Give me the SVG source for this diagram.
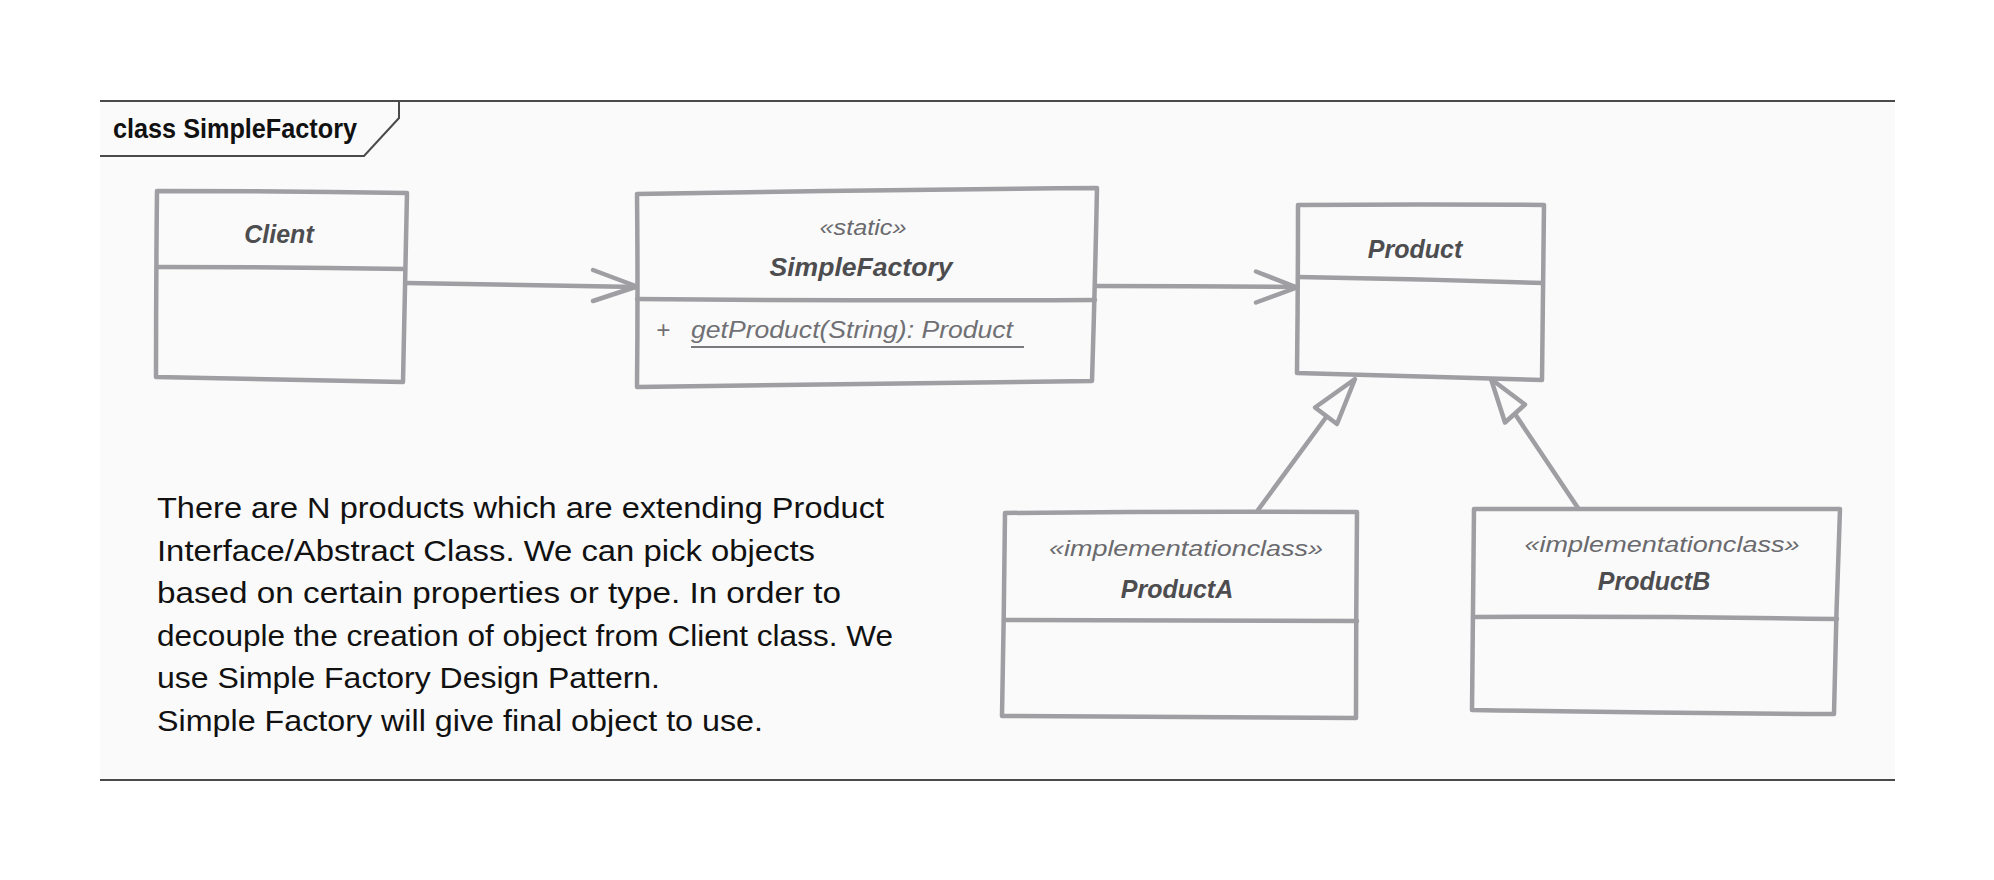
<svg xmlns="http://www.w3.org/2000/svg" width="1994" height="880" viewBox="0 0 1994 880">
  <style>
    .box { fill: #fafafa; stroke: #9e9ea3; stroke-width: 4.5; stroke-linejoin: round; stroke-linecap: round; }
    .div { fill: none; stroke: #9e9ea3; stroke-width: 4.5; stroke-linecap: round; }
    .conn { fill: none; stroke: #9e9ea3; stroke-width: 4.5; stroke-linecap: round; stroke-linejoin: round; }
    .tri { fill: #fafafa; stroke: #9e9ea3; stroke-width: 4.5; stroke-linejoin: round; }
    .name { font-family: "Liberation Sans", "DejaVu Sans", sans-serif; font-weight: bold; font-style: italic; font-size: 25px; fill: #4d4d50; text-anchor: middle; }
    .stereo { font-family: "Liberation Sans", "DejaVu Sans", sans-serif; font-style: italic; font-size: 22px; fill: #6a6a6e; text-anchor: middle; }
    .op { font-family: "Liberation Sans", "DejaVu Sans", sans-serif; font-style: italic; font-size: 24px; fill: #707074; }
    .note { font-family: "Liberation Sans", "DejaVu Sans", sans-serif; font-size: 29px; fill: #111111; }
    .frame { fill: none; stroke: #4a4a4a; stroke-width: 2; }
  </style>

  <rect x="0" y="0" width="1994" height="880" fill="#ffffff"/>

  <g id="frame">
    <rect x="100" y="101" width="1795" height="679" fill="#fafafa"/>
    <line class="frame" x1="100" y1="101" x2="1895" y2="101"/>
    <line class="frame" x1="100" y1="780" x2="1895" y2="780" stroke-width="2.5"/>
    <path class="frame" d="M100,156 L364,156 L399,118 L399,101"/>
    <text x="113" y="138" font-family="'Liberation Sans', 'DejaVu Sans', sans-serif" font-weight="bold" font-size="27" fill="#111111" textLength="244" lengthAdjust="spacingAndGlyphs">class SimpleFactory</text>
  </g>

  <g id="connectors">
    <!-- Client -> SimpleFactory -->
    <path class="conn" d="M406,283 Q520,285 637,287"/>
    <path class="conn" d="M593,270 L637,286.5 L593,301"/>
    <!-- SimpleFactory -> Product -->
    <path class="conn" d="M1095,286 Q1200,286 1297,287"/>
    <path class="conn" d="M1256,271.5 L1297,287.5 L1256,302.5"/>
    <!-- ProductA -> Product (generalization) -->
    <path class="conn" d="M1258,510 L1327,416"/>
    <path class="tri" d="M1355,379 L1315,407.5 L1337,424 Z"/>
    <!-- ProductB -> Product (generalization) -->
    <path class="conn" d="M1578,508 L1515,414"/>
    <path class="tri" d="M1491,379 L1505,422.5 L1525,404.5 Z"/>
  </g>

  <g id="client">
    <path class="box" d="M157,191 Q280,191 407,193 Q405,290 403,382 Q280,380 156,377 Q156,285 157,191 Z"/>
    <path class="div" d="M157,267 Q280,267 405,269"/>
    <text class="name" x="279" y="243">Client</text>
  </g>

  <g id="simplefactory">
    <path class="box" d="M637,194 Q860,190 1097,188 Q1095,285 1092,381 Q860,384 637,387 Q638,290 637,194 Z"/>
    <path class="div" d="M637,299 Q860,301 1095,300"/>
    <text class="stereo" x="863" y="235" textLength="87" lengthAdjust="spacingAndGlyphs">«static»</text>
    <text class="name" x="861" y="276" textLength="183" lengthAdjust="spacingAndGlyphs">SimpleFactory</text>
    <text class="op" x="656" y="338">+</text>
    <text class="op" x="691" y="338" textLength="322" lengthAdjust="spacingAndGlyphs">getProduct(String): Product</text>
    <line x1="691" y1="347" x2="1024" y2="347" stroke="#7a7a7e" stroke-width="2.2"/>
  </g>

  <g id="product">
    <path class="box" d="M1298,205 Q1420,204 1544,205 Q1543,292 1542,380 Q1420,376 1297,373 Q1298,290 1298,205 Z"/>
    <path class="div" d="M1298,277 Q1420,279 1543,283"/>
    <text class="name" x="1415" y="258" font-size="26">Product</text>
  </g>

  <g id="productA">
    <path class="box" d="M1005,513 Q1180,511 1357,512 Q1356,615 1356,718 Q1180,717 1002,716 Q1004,615 1005,513 Z"/>
    <path class="div" d="M1004,620 Q1180,621 1357,621"/>
    <text class="stereo" x="1186" y="556" font-size="23" textLength="274" lengthAdjust="spacingAndGlyphs">«implementationclass»</text>
    <text class="name" x="1177" y="598" font-size="26">ProductA</text>
  </g>

  <g id="productB">
    <path class="box" d="M1474,509 Q1655,509 1840,509 Q1836,612 1834,714 Q1655,713 1472,710 Q1473,610 1474,509 Z"/>
    <path class="div" d="M1473,617 Q1655,616 1837,619"/>
    <text class="stereo" x="1662" y="552" font-size="23" textLength="275" lengthAdjust="spacingAndGlyphs">«implementationclass»</text>
    <text class="name" x="1654" y="590" font-size="26">ProductB</text>
  </g>

  <g id="note">
    <text class="note" x="157" y="518" textLength="727" lengthAdjust="spacingAndGlyphs">There are N products which are extending Product</text>
    <text class="note" x="157" y="560.5" textLength="658" lengthAdjust="spacingAndGlyphs">Interface/Abstract Class. We can pick objects</text>
    <text class="note" x="157" y="603" textLength="684" lengthAdjust="spacingAndGlyphs">based on certain properties or type. In order to</text>
    <text class="note" x="157" y="645.5" textLength="736" lengthAdjust="spacingAndGlyphs">decouple the creation of object from Client class. We</text>
    <text class="note" x="157" y="688" textLength="503" lengthAdjust="spacingAndGlyphs">use Simple Factory Design Pattern.</text>
    <text class="note" x="157" y="730.5" textLength="606" lengthAdjust="spacingAndGlyphs">Simple Factory will give final object to use.</text>
  </g>
</svg>
